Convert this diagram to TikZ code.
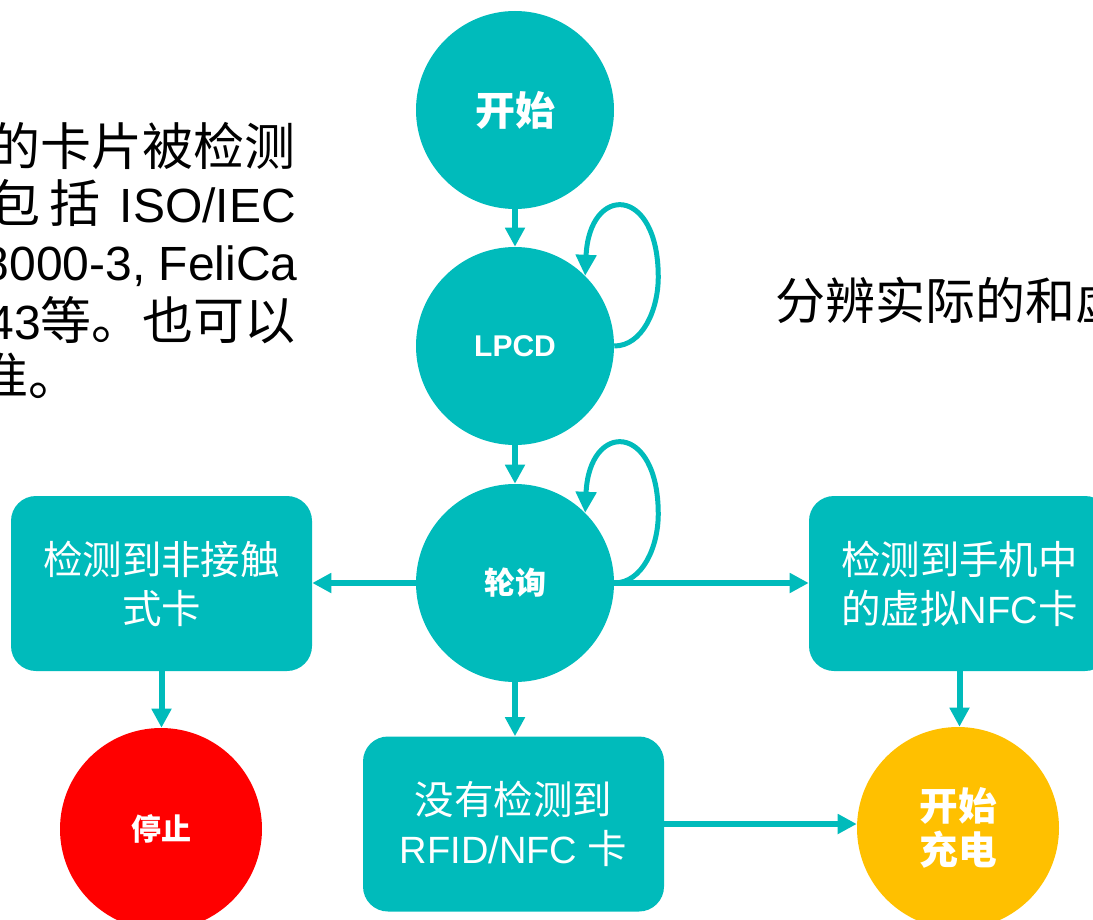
\documentclass[tikz,border=0pt]{standalone}
\usepackage{fontspec}
\setmainfont{Liberation Sans}
\newfontfamily\cjk{Noto Sans CJK SC}
\usetikzlibrary{arrows.meta}
\definecolor{tealc}{RGB}{0,187,187}
\definecolor{redc}{RGB}{255,0,0}
\definecolor{goldc}{RGB}{255,192,0}
% paragraph fonts
\newcommand\PL{\fontsize{36pt}{40pt}\selectfont}
\newcommand\PC{\cjk\fontsize{38.25pt}{40pt}\selectfont}
\newcommand\RC{\cjk\fontsize{37.5pt}{40pt}\selectfont}
% box fonts
\newcommand\BL{\fontsize{28.5pt}{36.75pt}\selectfont}
\newcommand\BC{\cjk\fontsize{29.6pt}{36.75pt}\selectfont}
\tikzset{
  state/.style={circle, fill=tealc, draw=none, minimum size=148.5pt, inner sep=0pt, text=white, align=center},
  endstate/.style={state, minimum size=151.5pt},
  card/.style={rectangle, rounded corners=18.75pt, fill=tealc, draw=none, minimum width=225.75pt, minimum height=131.25pt, text=white, align=center, inner sep=0pt, font=\BL},
  flow/.style={draw=tealc, line width=4.5pt, -{Triangle[width=14.25pt,length=14.25pt]}},
  selfloop/.style={draw=tealc, line width=3.75pt, -{Triangle[width=15pt,length=15.75pt]}},
  para/.style={inner sep=0pt, text=black, font=\PL},
}
\begin{document}
\begin{tikzpicture}[x=0.75pt,y=-0.75pt]
\useasboundingbox (0,0) rectangle (1093,920);
\clip (0,0) rectangle (1093,920);

% left paragraph (cut off by the left edge)
\node[para, anchor=base east] (t1) at (296,166) {{\PC 的卡片被检测}};
\node[para, anchor=base east] (t2) at (296,223) {{\PC 包}\hspace{6.75pt}{\PC 括}\hspace{14.25pt}ISO/IEC};
\node[para, anchor=base east] (t3) at (298,281) {8000-3, FeliCa};
\node[para, anchor=base east] (t4) at (296,339) {43{\PC 等。也可以}};
\node[para, anchor=base west] (t5) at (-23,395) {{\PC 准。}};

% right text (cut off by the right edge)
\node[para, anchor=base west] (rt) at (775,319.5) {{\RC 分辨实际的和虚}};

% states
\node[state, font=\cjk\bfseries\fontsize{30pt}{36pt}\selectfont] (start) at (515,110) {开始};
\node[state, font=\bfseries\fontsize{22.5pt}{27pt}\selectfont] (lpcd) at (515,346) {LPCD};
\node[state, font=\cjk\bfseries\fontsize{23.25pt}{28pt}\selectfont] (poll) at (515,583) {轮询};
\node[endstate, fill=redc, font=\cjk\bfseries\fontsize{22.5pt}{27pt}\selectfont] (stop) at (161,829) {停止};
\node[endstate, fill=goldc, font=\cjk\bfseries\fontsize{29pt}{33pt}\selectfont] (charge) at (958,828) {开始\\充电};

% cards
\node[card] (contactless) at (161.5,583.5) {{\BC 检测到非接触}\\{\BC 式卡}};
\node[card] (phone) at (959.5,583.5) {{\BC 检测到手机中}\\{\BC 的虚拟}NFC{\BC 卡}};
\node[card] (none) at (513.5,824) {{\BC 没有检测到}\\RFID/NFC {\BC 卡}};

% connectors
\draw[flow] (start.south) -- (lpcd.north);
\draw[flow] (lpcd.south) -- (poll.north);
\draw[flow] (poll.west) -- (poll.west -| contactless.east);
\draw[flow] (poll.east) -- (poll.east -| phone.west);
\draw[flow] (poll.south) -- (poll.south |- none.north);
\draw[flow] (contactless.south) -- (contactless.south |- stop.north);
\draw[flow] (phone.south) -- (phone.south |- charge.north);
\draw[flow] (none.east) -- (none.east -| charge.west);

% self loops
\draw[selfloop] (lpcd.east) .. controls +(28,0) and +(0,33) .. ++(44,-69)
  .. controls +(0,-92) and +(4,-92) .. (lpcd.45);
\draw[selfloop] (poll.east) .. controls +(28,0) and +(0,33) .. ++(44,-69)
  .. controls +(0,-92) and +(4,-92) .. (poll.45);
\end{tikzpicture}
\end{document}
